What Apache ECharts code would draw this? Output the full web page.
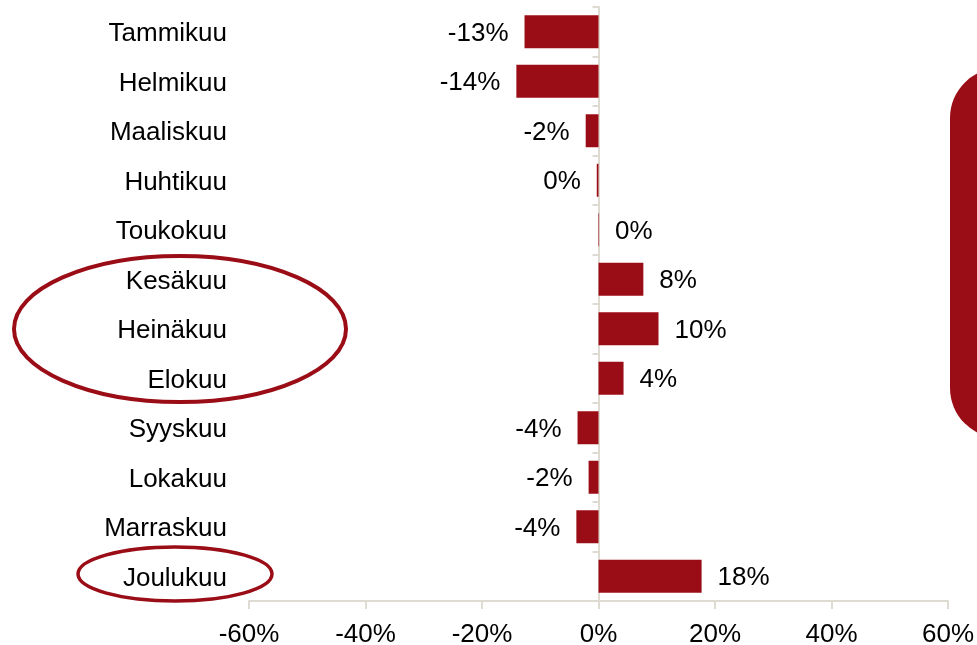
<!DOCTYPE html>
<html><head><meta charset="utf-8">
<script src="https://cdn.jsdelivr.net/npm/echarts@6/dist/echarts.min.js"></script>
<style>html,body{margin:0;padding:0;background:#fff}#c{width:977px;height:645px}</style>
</head><body><div id="c"></div>
<script>
const months = ['Tammikuu','Helmikuu','Maaliskuu','Huhtikuu','Toukokuu','Kesäkuu','Heinäkuu','Elokuu','Syyskuu','Lokakuu','Marraskuu','Joulukuu'];
const changes = [-12.7, -14.1, -2.2, -0.3, 0.1, 7.7, 10.3, 4.3, -3.6, -1.7, -3.8, 17.7];
const xTicks = [-60, -40, -20, 0, 20, 40, 60];

const RED = '#9b0d16';
const AXIS = '#dedbd3';
const FONT = 'Liberation Sans, Arial, sans-serif';
const FS = 26;

const chart = echarts.init(document.getElementById('c'));
chart.setOption({
  animation: false,
  grid: { left: 249, right: 29, top: 7, bottom: 44, containLabel: false, outerBoundsMode: 'none' },
  xAxis: {
    type: 'value', min: xTicks[0], max: xTicks[xTicks.length - 1], interval: 20,
    axisLine: { show: true, onZero: false, lineStyle: { color: AXIS, width: 2 } },
    axisTick: { show: true, length: 8, lineStyle: { color: AXIS, width: 2 } },
    splitLine: { show: false },
    axisLabel: { formatter: v => v + '%', color: '#000', fontSize: FS, fontFamily: FONT, margin: 21 }
  },
  yAxis: [
    {
      type: 'category', data: months, inverse: true,
      axisLine: { show: true, onZero: true, lineStyle: { color: AXIS, width: 2 } },
      axisTick: { show: true, length: 6, lineStyle: { color: AXIS, width: 2 } },
      axisLabel: { show: false }
    },
    {
      type: 'category', data: months, inverse: true, position: 'left',
      axisLine: { show: false, onZero: false },
      axisTick: { show: false },
      axisLabel: {
        margin: 22,
        formatter: v => '{m|' + v + '}',
        rich: { m: { color: '#000', fontSize: FS, fontFamily: FONT, padding: [5, 0, 0, 0] } }
      }
    }
  ],
  series: [{
    type: 'bar', yAxisIndex: 0, barWidth: 33,
    data: changes.map(v => ({ value: v, label: { position: v < 0 ? 'left' : 'right' } })),
    itemStyle: { color: RED },
    label: {
      show: true, color: '#000', fontSize: FS, fontFamily: FONT, distance: 16,
      offset: [0, 2],
      formatter: p => Math.round(p.value) + '%'
    }
  }],
  graphic: [
    { type: 'ellipse', shape: { cx: 180, cy: 329, rx: 166, ry: 73 }, style: { fill: 'none', stroke: RED, lineWidth: 4 } },
    { type: 'ellipse', shape: { cx: 175, cy: 574, rx: 97, ry: 27 }, style: { fill: 'none', stroke: RED, lineWidth: 3.5 } },
    { type: 'rect', shape: { x: 950, y: 68, width: 120, height: 370, r: 50 }, style: { fill: RED } }
  ]
});
</script></body></html>
